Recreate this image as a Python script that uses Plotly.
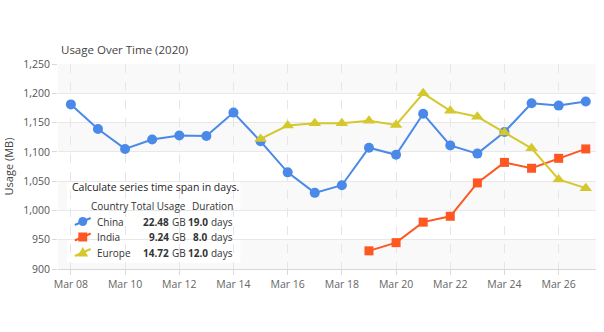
import plotly.graph_objects as go
import pandas as pd

# Daily usage in MB per region
china_dates = pd.date_range("2020-03-08", "2020-03-27", freq="D")
china_usage = [1181, 1139, 1105, 1121, 1128, 1127, 1167, 1118, 1065, 1030,
               1043, 1107, 1095, 1165, 1111, 1097, 1134, 1183, 1179, 1186]

india_dates = pd.date_range("2020-03-19", "2020-03-27", freq="D")
india_usage = [931, 945, 980, 990, 1047, 1082, 1072, 1089, 1105]

europe_dates = pd.date_range("2020-03-15", "2020-03-27", freq="D")
europe_usage = [1122, 1145, 1149, 1149, 1153, 1146, 1200, 1170, 1160, 1133,
                1106, 1053, 1038]

series = [
    ("China", china_dates, china_usage, "#4a89e8", "circle", 10),
    ("India", india_dates, india_usage, "#fd5722", "square", 9),
    ("Europe", europe_dates, europe_usage, "#d5c82c", "triangle-up", 11),
]

y_ticks = [900, 950, 1000, 1050, 1100, 1150, 1200, 1250]

FONT = "Open Sans"
W, H = 604, 332
L, R, T, B = 53, 8, 64, 63
PW, PH = W - L - R, H - T - B


def px_x(p):
    return (p - L) / PW


def px_y(p):
    return (H - B - p) / PH


def label(text, x, y, anchor, font):
    return dict(text=text, xref="paper", yref="paper", x=px_x(x), y=px_y(y),
                xanchor=anchor, yanchor="middle", showarrow=False,
                borderpad=0, font=font)


fig = go.Figure()
for name, dates, vals, color, symbol, size in series:
    fig.add_trace(go.Scatter(
        x=dates, y=vals, name=name, mode="lines+markers",
        line=dict(color=color, width=2),
        marker=dict(color=color, symbol=symbol, size=size),
        showlegend=False,
    ))

# alternating light bands behind the plot
shapes = []
for lo in y_ticks[:-1:2]:
    shapes.append(dict(type="rect", xref="paper", yref="y", x0=0, x1=1,
                       y0=lo, y1=lo + 50, fillcolor="#f9f9f9",
                       line=dict(width=0), layer="below"))
# white panel under the summary table
shapes.append(dict(type="rect", xref="paper", yref="paper",
                   x0=px_x(62), x1=px_x(237), y0=px_y(263), y1=px_y(176),
                   fillcolor="white", line=dict(width=0), layer="between"))

txt = dict(family=FONT, size=10, color="#333")
ann = [label("Calculate series time span in days.", 66, 187, "left",
             dict(family=FONT, size=10.5, color="#222"))]
for head, right in [("Country", 126), ("Total Usage", 183.5), ("Duration", 230.5)]:
    ann.append(label(head, right, 206, "right", txt))

for i, (name, dates, vals, color, symbol, size) in enumerate(series):
    cy = 221.5 + i * 15.5
    total_gb = sum(vals) / 1000
    days = (dates[-1] - dates[0]).days
    # key: slanted line with the series marker
    shapes.append(dict(type="line", xref="paper", yref="paper",
                       x0=px_x(70), y0=px_y(cy + 3.5), x1=px_x(86), y1=px_y(cy - 3.5),
                       line=dict(color=color, width=2), layer="above"))
    mx = 78
    if symbol == "circle":
        shapes.append(dict(type="circle", xref="paper", yref="paper",
                           x0=px_x(mx - 4.5), x1=px_x(mx + 4.5),
                           y0=px_y(cy + 4.5), y1=px_y(cy - 4.5),
                           fillcolor=color, line=dict(width=0), layer="above"))
    elif symbol == "square":
        shapes.append(dict(type="rect", xref="paper", yref="paper",
                           x0=px_x(mx - 4.5), x1=px_x(mx + 4.5),
                           y0=px_y(cy + 4.5), y1=px_y(cy - 4.5),
                           fillcolor=color, line=dict(width=0), layer="above"))
    else:
        shapes.append(dict(type="path", xref="paper", yref="paper",
                           path=(f"M {px_x(mx - 5.5)} {px_y(cy + 4)} "
                                 f"L {px_x(mx + 5.5)} {px_y(cy + 4)} "
                                 f"L {px_x(mx)} {px_y(cy - 5.5)} Z"),
                           fillcolor=color, line=dict(width=0), layer="above"))
    ann.append(label(name, 91, cy, "left", txt))
    ann.append(label(f"<b>{total_gb:.2f}</b>", 166.5, cy, "right", txt))
    ann.append(label("GB", 183.5, cy, "right", txt))
    ann.append(label(f"<b>{days:.1f}</b>", 205, cy, "right", txt))
    ann.append(label("days", 230.5, cy, "right", txt))

fig.update_layout(
    width=W, height=H,
    margin=dict(l=L, r=R, t=T, b=B),
    paper_bgcolor="white", plot_bgcolor="white",
    font=dict(family=FONT, size=10.5, color="#555"),
    title=dict(text="Usage Over Time (2020)", x=61 / W, xanchor="left",
               y=1 - 50 / H, yanchor="middle",
               font=dict(family=FONT, size=11.5, color="#444")),
    showlegend=False,
    shapes=shapes,
    annotations=ann,
    xaxis=dict(
        type="date",
        range=["2020-03-07 12:36", "2020-03-27 09:04"],
        tick0="2020-03-08", dtick=2 * 86400000, tickformat="%b %d",
        showgrid=True, gridcolor="#e6e6e6", griddash="dash", gridwidth=1,
        ticks="outside", ticklen=5, tickcolor="#d8d8d8",
        showline=True, linecolor="#d8d8d8", zeroline=False,
        tickfont=dict(family=FONT, size=10.5, color="#666"),
    ),
    yaxis=dict(
        range=[900, 1250], tickvals=y_ticks, tickformat=",d",
        showgrid=True, gridcolor="#e8e8e8", gridwidth=1,
        ticks="outside", ticklen=5, tickcolor="#d8d8d8",
        zeroline=False, showline=False,
        tickfont=dict(family=FONT, size=10.5, color="#555"),
        title=dict(text="Usage (MB)", standoff=7,
                   font=dict(family=FONT, size=11, color="#444")),
    ),
)

fig.write_html("out.html")
